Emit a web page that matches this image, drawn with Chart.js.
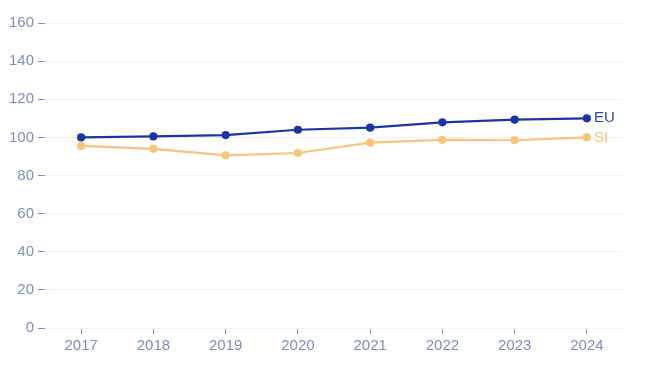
<!DOCTYPE html>
<html>
<head>
<meta charset="utf-8">
<script src="https://cdn.jsdelivr.net/npm/chart.js@4"></script>
<style>
	html, body { margin: 0; padding: 0; background: #fff; }
	#wrap { width: 659px; height: 373px; }
</style>
</head>
<body>
<div id="wrap"><canvas id="lineChart"></canvas></div>
<script>
var years = ['2017', '2018', '2019', '2020', '2021', '2022', '2023', '2024'];
var euValues = [100, 100.5, 101.2, 104, 105.1, 107.9, 109.3, 110];
var siValues = [95.5, 94, 90.6, 91.8, 97.2, 98.7, 98.5, 100];
var seriesNames = ['EU', 'SI'];
var seriesColors = ['#1a35a6', '#f6c47a'];

var textColor = '#7b8ebf';
var fontFamily = '"Liberation Sans", Arial, sans-serif';

// 마지막 점 옆에 시리즈 이름을 붙인다.
var endLabels = {
	id: 'endLabels',
	afterDatasetsDraw: function(chart) {
		var ctx = chart.ctx;
		ctx.save();
		ctx.font = '15px ' + fontFamily;
		ctx.textBaseline = 'middle';
		ctx.textAlign = 'left';
		chart.data.datasets.forEach(function(ds, i) {
			var meta = chart.getDatasetMeta(i);
			var pt = meta.data[meta.data.length - 1];
			ctx.fillStyle = i === 0 ? '#2a45ad' : ds.borderColor;
			ctx.fillText(ds.label, pt.x + 7, pt.y);
		});
		ctx.restore();
	}
};

var chartArea = document.getElementById('lineChart').getContext('2d');
var myChart = new Chart(chartArea, {
	type: 'line',
	data: {
		labels: years,
		datasets: [{
			label: seriesNames[0],
			data: euValues,
			borderColor: seriesColors[0],
			backgroundColor: seriesColors[0],
			borderWidth: 2.2,
			pointRadius: 3,
			pointHoverRadius: 3,
			tension: 0
		}, {
			label: seriesNames[1],
			data: siValues,
			borderColor: seriesColors[1],
			backgroundColor: seriesColors[1],
			borderWidth: 2.2,
			pointRadius: 3,
			pointHoverRadius: 3,
			tension: 0
		}]
	},
	options: {
		responsive: true,
		maintainAspectRatio: false,
		animation: false,
		layout: {
			padding: { left: 5, right: 36, top: 23, bottom: 15 }
		},
		plugins: {
			legend: { display: false },
			tooltip: { enabled: false }
		},
		scales: {
			x: {
				offset: true,
				border: { display: false },
				grid: {
					drawOnChartArea: false,
					offset: false,
					tickColor: textColor,
					tickLength: 6
				},
				ticks: {
					color: textColor,
					padding: 3,
					font: { family: fontFamily, size: 15 }
				}
			},
			y: {
				min: 0,
				max: 160,
				border: { display: false },
				grid: {
					color: '#f1f2f7',
					tickColor: textColor,
					tickLength: 7
				},
				ticks: {
					stepSize: 20,
					color: textColor,
					padding: 4,
					font: { family: fontFamily, size: 15 }
				}
			}
		}
	},
	plugins: [endLabels]
});
</script>
</body>
</html>
